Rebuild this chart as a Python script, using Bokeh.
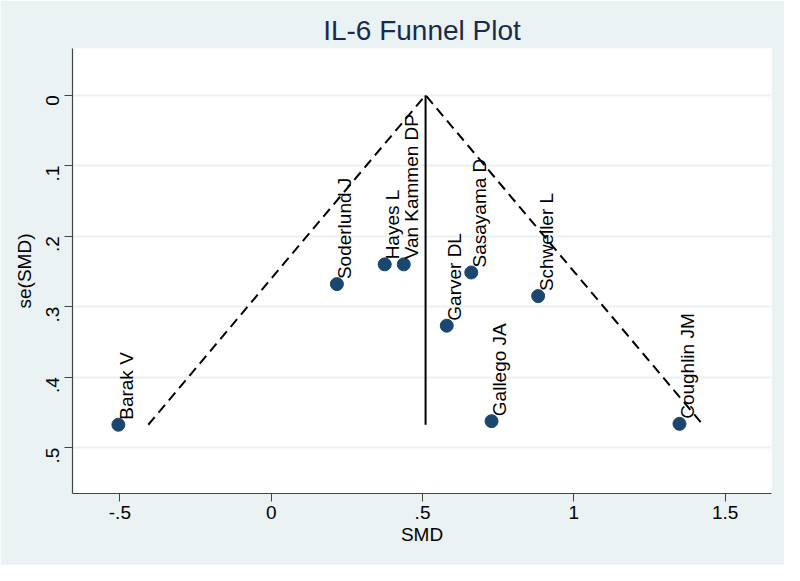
import math
from bokeh.plotting import figure
from bokeh.models import Range1d, FixedTicker, ColumnDataSource
from bokeh.core.properties import value
from bokeh.embed import file_html
from bokeh.resources import INLINE

# ---- data ----
studies = ["Barak V", "Soderlund J", "Hayes L", "Van Kammen DP", "Garver DL",
           "Sasayama D", "Gallego JA", "Schweller L", "Coughlin JM"]
smd = [-0.505, 0.217, 0.375, 0.438, 0.580, 0.661, 0.728, 0.882, 1.349]
se_smd = [0.4675, 0.268, 0.240, 0.240, 0.327, 0.2515, 0.4624, 0.285, 0.4662]
pooled_smd = 0.510
z_crit = 1.96

x_ticks = [-0.5, 0, 0.5, 1, 1.5]
x_tick_labels = ["-.5", "0", ".5", "1", "1.5"]
y_ticks = [0, 0.1, 0.2, 0.3, 0.4, 0.5]
y_tick_labels = ["0", ".1", ".2", ".3", ".4", ".5"]

BG = "#EAF2F3"
FONT = "Liberation Sans"

p = figure(width=784, height=565, output_backend="svg", toolbar_location=None,
           x_range=Range1d(-0.6566, 1.653), y_range=Range1d(0.565, -0.0662),
           min_border_left=72, min_border_right=13, min_border_top=48,
           min_border_bottom=72)
p.frame_width = 699
p.frame_height = 445
p.background_fill_color = "white"
p.border_fill_color = BG
p.outline_line_color = None

p.title.text = "IL-6 Funnel Plot"
p.title.align = "center"
p.title.text_font = FONT
p.title.text_font_size = "28px"
p.title.text_font_style = "normal"
p.title.text_color = "#1a2a4f"
p.title.standoff = 6

# axes
p.xaxis.ticker = FixedTicker(ticks=x_ticks)
p.xaxis.major_label_overrides = {t: l for t, l in zip(x_ticks, x_tick_labels)}
p.yaxis.ticker = FixedTicker(ticks=y_ticks)
p.yaxis.major_label_overrides = {t: l for t, l in zip(y_ticks, y_tick_labels)}
p.xaxis.axis_label = "SMD"
p.yaxis.axis_label = "se(SMD)"
p.yaxis.major_label_orientation = math.pi / 2
for ax in (p.xaxis, p.yaxis):
    ax.axis_line_color = "#444444"
    ax.axis_line_width = 1.2
    ax.major_tick_line_color = "#444444"
    ax.major_tick_out = 8
    ax.major_tick_in = 0
    ax.minor_tick_line_color = None
    ax.major_label_text_font = FONT
    ax.major_label_text_font_size = "19px"
    ax.major_label_text_color = "black"
    ax.axis_label_text_font = FONT
    ax.axis_label_text_font_size = "19px"
    ax.axis_label_text_font_style = "normal"
    ax.axis_label_text_color = "black"
p.xaxis.major_label_standoff = 4
p.xaxis.axis_label_standoff = 2
p.yaxis.major_label_standoff = 12
p.yaxis.axis_label_standoff = 2

p.xgrid.grid_line_color = None
p.ygrid.ticker = FixedTicker(ticks=y_ticks)
p.ygrid.grid_line_color = BG
p.ygrid.grid_line_width = 2

# funnel
se_max = max(se_smd)
p.line([pooled_smd - z_crit * se_max, pooled_smd, pooled_smd + z_crit * se_max],
       [se_max, 0, se_max], line_color="black", line_width=2, line_dash="10 6")
p.line([pooled_smd, pooled_smd], [0, se_max], line_color="black", line_width=2)

src = ColumnDataSource(dict(x=smd, y=se_smd, name=studies))
p.scatter("x", "y", source=src, size=13, fill_color="#1A476F",
          line_color="#1A476F")
p.text("x", "y", text="name", source=src, angle=math.pi / 2,
       text_align="left", text_baseline="middle", x_offset=8, y_offset=-5,
       text_font=value(FONT), text_font_size="19px", text_color="black")

html = file_html(p, INLINE)
html = html.replace("<body>", '<body style="background:%s">' % BG, 1)
open("out.html", "w").write(html)
